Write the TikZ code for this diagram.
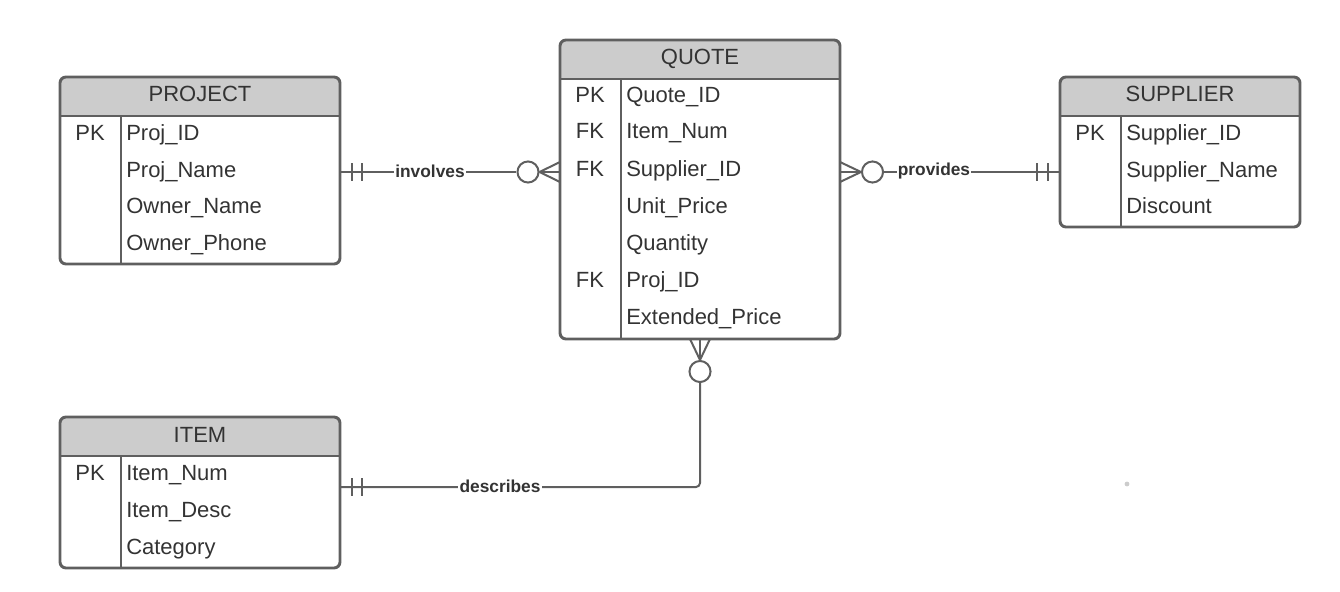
\documentclass[tikz,border=0pt]{standalone}
\usepackage{fontspec}
\setmainfont{Liberation Sans}
\definecolor{lc}{HTML}{5F5F5F}
\definecolor{hc}{HTML}{CCCCCC}
\definecolor{tc}{HTML}{333333}
\newcommand{\ertab}[5]{%
  \fill[hc] (#2,#3+39) [rounded corners=4.5pt] -- (#2,#3) -- (#4,#3) [sharp corners] -- (#4,#3+39) -- cycle;
  \draw[bord, rounded corners=4.5pt] (#2,#3) rectangle (#4,#5);
  \draw[bord] (#2,#3+39) -- (#4,#3+39);
  \draw[bord] (#2+61,#3+39) -- (#2+61,#5);
  \coordinate (#1) at (#2,#3);
}
\begin{document}
\begin{tikzpicture}[x=0.75pt,y=-0.75pt,
  bord/.style={draw=lc, line width=2.2pt},
  conn/.style={draw=lc, line width=1.5pt},
  ring/.style={circle, draw=lc, line width=1.5pt, fill=white, minimum size=15.8pt, inner sep=0pt},
  ttl/.style={anchor=base, font=\fontsize{16.5}{18}\selectfont, text=tc, inner sep=0pt},
  keyt/.style={anchor=base, font=\fontsize{16.5}{18}\selectfont, text=tc, inner sep=0pt},
  fld/.style={anchor=base west, font=\fontsize{16.5}{18}\selectfont, text=tc, inner sep=0pt},
  rel/.style={fill=white, font=\bfseries\fontsize{13}{15}\selectfont, text=tc, inner sep=1pt}
]
\useasboundingbox (0,0) rectangle (1340,592);

% ---------- PROJECT ----------
\ertab{project}{60}{77}{340}{264}
\node[ttl] (p-t) at (200,102) {PROJECT};
\node[keyt] (p-k1) at (90,141) {PK};
\node[fld] (p-f1) at (126,141) {Proj\_ID};
\node[fld] (p-f2) at (126,177) {Proj\_Name};
\node[fld] (p-f3) at (126,214) {Owner\_Name};
\node[fld] (p-f4) at (126,250) {Owner\_Phone};

% ---------- QUOTE ----------
\ertab{quote}{560}{40}{840}{339}
\node[ttl] (q-t) at (700,65) {QUOTE};
\node[keyt] (q-k1) at (590,103) {PK};
\node[fld] (q-f1) at (626,103) {Quote\_ID};
\node[keyt] (q-k2) at (590,139) {FK};
\node[fld] (q-f2) at (626,139) {Item\_Num};
\node[keyt] (q-k3) at (590,176) {FK};
\node[fld] (q-f3) at (626,176) {Supplier\_ID};
\node[fld] (q-f4) at (626,213) {Unit\_Price};
\node[fld] (q-f5) at (626,250) {Quantity};
\node[keyt] (q-k6) at (590,287) {FK};
\node[fld] (q-f6) at (626,287) {Proj\_ID};
\node[fld] (q-f7) at (626,324) {Extended\_Price};

% ---------- SUPPLIER ----------
\ertab{supplier}{1060}{77}{1300}{227}
\node[ttl] (s-t) at (1180,102) {SUPPLIER};
\node[keyt] (s-k1) at (1090,141) {PK};
\node[fld] (s-f1) at (1126,141) {Supplier\_ID};
\node[fld] (s-f2) at (1126,177) {Supplier\_Name};
\node[fld] (s-f3) at (1126,214) {Discount};

% ---------- ITEM ----------
\ertab{item}{60}{417}{340}{568}
\node[ttl] (i-t) at (200,442) {ITEM};
\node[keyt] (i-k1) at (90,480) {PK};
\node[fld] (i-f1) at (126,480) {Item\_Num};
\node[fld] (i-f2) at (126,517) {Item\_Desc};
\node[fld] (i-f3) at (126,554) {Category};

% ---------- involves ----------
\coordinate (inv-a) at (340,172);
\coordinate (inv-b) at (560,172);
\coordinate (inv-b1) at (560,162);
\coordinate (inv-b2) at (560,182);
\coordinate (inv-m1) at (352,163);
\coordinate (inv-m2) at (352,181);
\coordinate (inv-n1) at (362,163);
\coordinate (inv-n2) at (362,181);
\node[ring] (inv-c) at (528,172) {};
\draw[conn] (inv-a) -- (inv-c);
\draw[conn] (inv-c.east) -- (inv-b);
\draw[conn] (inv-c.east) -- (inv-b1);
\draw[conn] (inv-c.east) -- (inv-b2);
\draw[conn] (inv-m1) -- (inv-m2);
\draw[conn] (inv-n1) -- (inv-n2);
\node[rel] (inv-l) at (430,171) {involves};

% ---------- provides ----------
\coordinate (pro-a) at (840,172);
\coordinate (pro-a1) at (840,162);
\coordinate (pro-a2) at (840,182);
\coordinate (pro-b) at (1060,172);
\coordinate (pro-m1) at (1037,163);
\coordinate (pro-m2) at (1037,181);
\coordinate (pro-n1) at (1048,163);
\coordinate (pro-n2) at (1048,181);
\node[ring] (pro-c) at (872.5,172) {};
\draw[conn] (pro-c) -- (pro-b);
\draw[conn] (pro-c.west) -- (pro-a);
\draw[conn] (pro-c.west) -- (pro-a1);
\draw[conn] (pro-c.west) -- (pro-a2);
\draw[conn] (pro-m1) -- (pro-m2);
\draw[conn] (pro-n1) -- (pro-n2);
\node[rel] (pro-l) at (934,171) {provides};

% ---------- describes ----------
\coordinate (des-a) at (340,487);
\coordinate (des-k) at (700,487);
\coordinate (des-b) at (700,339);
\coordinate (des-b1) at (690,339);
\coordinate (des-b2) at (710,339);
\coordinate (des-m1) at (352,478);
\coordinate (des-m2) at (352,496);
\coordinate (des-n1) at (362,478);
\coordinate (des-n2) at (362,496);
\node[ring] (des-c) at (700,371.5) {};
\draw[conn, rounded corners=3pt] (des-a) -- (des-k) -- (des-c.south);
\draw[conn] (des-c.north) -- (des-b);
\draw[conn] (des-c.north) -- (des-b1);
\draw[conn] (des-c.north) -- (des-b2);
\draw[conn] (des-m1) -- (des-m2);
\draw[conn] (des-n1) -- (des-n2);
\node[rel] (des-l) at (500,486) {describes};

% stray dot
\fill[black!20] (1127,484) circle (1.8pt);
\end{tikzpicture}
\end{document}
